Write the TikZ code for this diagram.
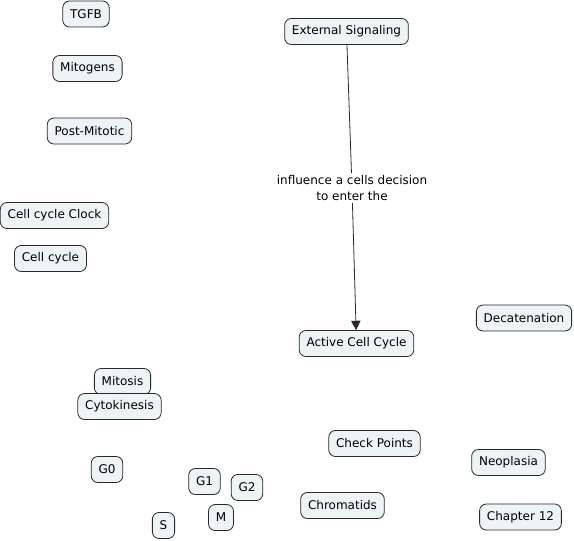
\documentclass[tikz,border=0pt]{standalone}
\usepackage{fontspec}
\setmainfont{DejaVu Sans}
\usetikzlibrary{arrows.meta}
\definecolor{boxfill}{RGB}{238,243,246}
\definecolor{boxline}{RGB}{40,40,40}
\tikzset{
  concept/.style={draw=boxline, fill=boxfill, rounded corners=5pt, line width=0.6pt,
    minimum height=19.5pt, inner xsep=5.5pt, inner ysep=2pt, font=\fontsize{9pt}{11pt}\selectfont},
  linklabel/.style={fill=white, align=center, font=\fontsize{9pt}{11.3pt}\selectfont, inner sep=2pt},
  link/.style={draw=boxline, line width=0.6pt, -{Triangle[length=7pt,width=7pt]}}
}
\begin{document}
\begin{tikzpicture}[x=0.75pt,y=-0.75pt]
\useasboundingbox (0,0) rectangle (574,540);
\node[concept] (tgfb) at (86,14) {TGFB};
\node[concept] (mitogens) at (87.5,68.5) {Mitogens};
\node[concept] (post) at (89.5,131) {Post-Mitotic};
\node[concept] (clock) at (54.5,215.5) {Cell cycle Clock};
\node[concept] (cycle) at (50.5,258.5) {Cell cycle};
\node[concept] (ext) at (346.5,31.5) {External Signaling};
\node[concept] (active) at (356.5,343.5) {Active Cell Cycle};
\node[concept] (decat) at (524,318) {Decatenation};
\node[concept] (mitosis) at (122.5,381.5) {Mitosis};
\node[concept] (cyto) at (119.5,406.5) {Cytokinesis};
\node[concept] (g0) at (107,469.5) {G0};
\node[concept] (g1) at (204.5,481.5) {G1};
\node[concept] (g2) at (247,487.5) {G2};
\node[concept] (m) at (221,517.5) {M};
\node[concept] (s) at (163.5,525.5) {S};
\node[concept] (check) at (374.5,443.5) {Check Points};
\node[concept] (neo) at (508.5,462.5) {Neoplasia};
\node[concept] (chrom) at (342.5,505.5) {Chromatids};
\node[concept] (ch12) at (520.5,517) {Chapter 12};
\node[linklabel] (lab) at (352,188) {influence a cells decision\\to enter the};
\draw[draw=boxline, line width=0.6pt] (ext) -- (lab);
\draw[link] (lab) -- (active);
\end{tikzpicture}
\end{document}
